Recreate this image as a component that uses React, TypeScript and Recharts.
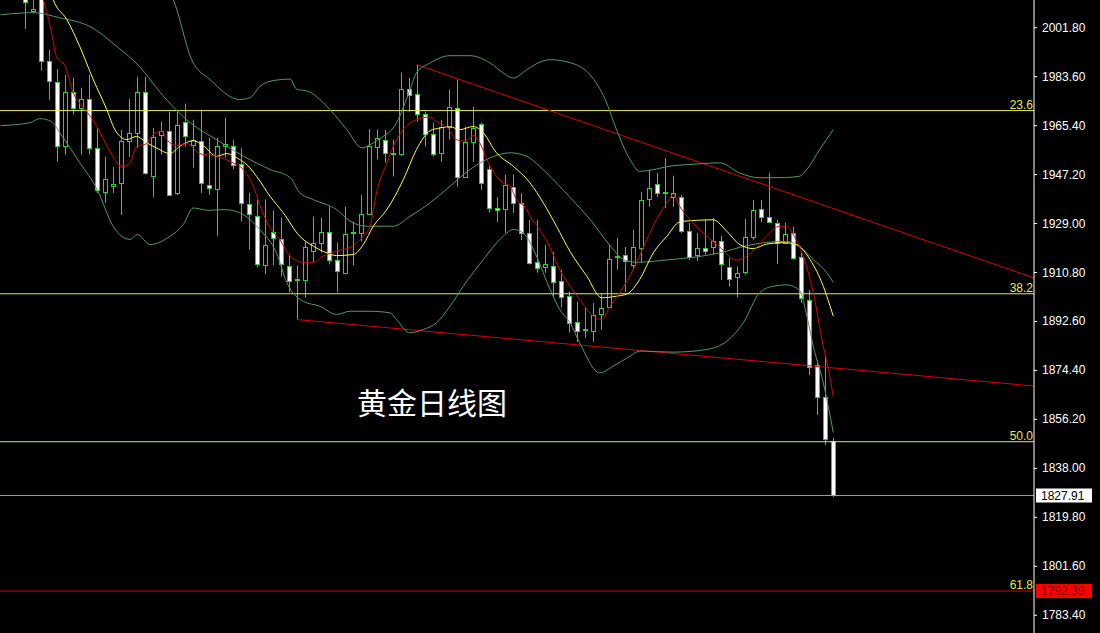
import React from 'react';
import { ComposedChart, Bar, Line, XAxis, YAxis, ReferenceLine } from 'recharts';

// daily candles, oldest first (prices)
const opens = [
  2016.0, 2007.8, 2013.5, 1989.5, 1981.7, 1957.9, 1978.0, 1972.0, 1975.4, 1957.1,
  1940.8, 1943.0, 1944.1, 1959.8, 1962.7, 1978.0, 1946.8, 1962.0, 1963.5, 1940.4,
  1966.6, 1958.3, 1959.8, 1943.4, 1941.9, 1958.1, 1957.9, 1951.3, 1936.4, 1931.9,
  1913.8, 1925.7, 1923.4, 1913.4, 1908.0, 1907.8, 1919.0, 1921.9, 1926.0, 1915.3,
  1910.8, 1925.3, 1925.7, 1932.7, 1957.6, 1960.2, 1954.8, 1955.0, 1979.1, 1977.3,
  1969.8, 1962.4, 1955.4, 1965.0, 1972.0, 1946.5, 1959.4, 1966.1, 1949.4, 1934.8,
  1934.4, 1942.7, 1936.7, 1925.5, 1914.8, 1912.9, 1913.1, 1907.7, 1901.9, 1892.4,
  1889.6, 1889.1, 1895.4, 1898.0, 1916.6, 1917.4, 1913.6, 1920.0, 1938.2, 1943.8,
  1940.4, 1938.9, 1938.9, 1926.3, 1917.4, 1920.0, 1920.3, 1922.6, 1912.9, 1909.2,
  1911.0, 1924.0, 1934.5, 1931.5, 1929.3, 1921.8, 1925.5, 1916.6, 1900.6, 1876.4,
  1864.5, 1848.1,
];
const highs = [
  2019.5, 2013.0, 2015.5, 1993.6, 1986.5, 1984.3, 1983.2, 1979.5, 1984.3, 1964.6,
  1953.8, 1950.1, 1963.8, 1975.4, 1983.6, 1983.6, 1964.6, 1966.9, 1970.6, 1970.6,
  1973.6, 1967.6, 1971.3, 1960.9, 1960.9, 1968.4, 1960.2, 1957.1, 1940.4, 1937.9,
  1937.9, 1933.9, 1931.2, 1917.5, 1913.4, 1922.3, 1931.6, 1931.2, 1935.3, 1921.9,
  1935.3, 1929.8, 1939.6, 1964.2, 1963.9, 1963.9, 1960.2, 1985.1, 1983.2, 1988.0,
  1970.6, 1966.5, 1967.6, 1978.8, 1982.5, 1965.0, 1972.4, 1966.5, 1950.8, 1938.9,
  1947.2, 1947.2, 1940.4, 1930.4, 1930.4, 1921.1, 1918.5, 1911.8, 1903.7, 1900.0,
  1897.6, 1899.5, 1903.2, 1921.0, 1923.7, 1920.3, 1926.7, 1940.8, 1949.0, 1947.9,
  1953.4, 1946.8, 1939.6, 1929.3, 1925.5, 1930.4, 1931.1, 1924.4, 1916.2, 1913.1,
  1930.7, 1937.8, 1937.8, 1947.9, 1930.4, 1929.3, 1927.8, 1918.1, 1904.3, 1878.3,
  1880.2, 1849.3,
];
const lows = [
  2001.4, 2007.4, 1985.8, 1975.0, 1952.0, 1954.6, 1969.5, 1954.6, 1954.6, 1940.4,
  1936.7, 1940.4, 1932.2, 1953.8, 1957.1, 1947.2, 1938.7, 1954.6, 1939.6, 1939.6,
  1957.6, 1949.8, 1940.4, 1939.6, 1924.5, 1953.5, 1949.1, 1929.8, 1919.3, 1912.7,
  1910.1, 1913.4, 1909.3, 1903.4, 1893.3, 1901.5, 1914.5, 1918.2, 1913.8, 1903.4,
  1910.1, 1913.4, 1922.3, 1932.3, 1952.8, 1951.6, 1946.5, 1954.2, 1970.6, 1966.9,
  1957.6, 1953.9, 1952.0, 1960.2, 1942.7, 1946.0, 1952.0, 1941.5, 1933.0, 1929.6,
  1925.5, 1933.0, 1922.9, 1913.8, 1910.7, 1910.7, 1901.7, 1897.8, 1888.5, 1885.0,
  1886.5, 1885.0, 1889.5, 1898.0, 1911.8, 1903.6, 1911.8, 1914.4, 1935.2, 1938.9,
  1934.8, 1935.2, 1925.5, 1915.5, 1915.1, 1917.4, 1917.4, 1908.1, 1905.5, 1901.5,
  1910.1, 1922.9, 1929.6, 1929.3, 1914.0, 1921.4, 1915.5, 1899.5, 1872.7, 1857.8,
  1846.7, 1827.4,
];
const closes = [
  2011.4, 2008.7, 1989.5, 1982.1, 1957.9, 1978.0, 1972.0, 1975.4, 1957.1, 1941.5,
  1945.6, 1943.8, 1959.8, 1962.7, 1978.0, 1947.9, 1961.3, 1963.5, 1939.8, 1965.8,
  1961.3, 1960.2, 1944.1, 1942.3, 1957.9, 1958.7, 1950.9, 1936.7, 1932.7, 1914.2,
  1921.2, 1923.4, 1914.2, 1907.8, 1908.4, 1920.1, 1921.9, 1926.0, 1915.6, 1911.2,
  1925.3, 1925.7, 1932.7, 1957.9, 1960.9, 1955.3, 1955.1, 1979.1, 1976.9, 1969.8,
  1962.4, 1955.0, 1965.0, 1972.4, 1946.5, 1959.4, 1964.7, 1944.1, 1934.8, 1934.1,
  1943.4, 1936.7, 1925.5, 1914.4, 1912.5, 1914.0, 1907.3, 1901.7, 1891.9, 1889.1,
  1889.9, 1895.0, 1897.6, 1915.8, 1917.0, 1915.1, 1920.3, 1937.8, 1942.3, 1940.4,
  1940.6, 1940.4, 1926.3, 1916.8, 1920.0, 1918.9, 1922.6, 1914.0, 1908.4, 1910.7,
  1924.0, 1934.1, 1931.5, 1929.6, 1921.8, 1925.2, 1916.2, 1901.3, 1875.7, 1864.5,
  1848.9, 1827.91,
];

// indicator lines: [bar index, price]
const upperBand = [
  [16.6, 2020.0], [18.5, 2012.2], [20.8, 1989.9], [23.1, 1982.5], [26.8, 1975.1], [28.1, 1975.8],
  [29.3, 1979.9], [30.6, 1981.9], [33.1, 1982.7], [33.9, 1979.0], [35.4, 1978.1], [38.1, 1971.3],
  [40.2, 1963.9], [42.1, 1957.1], [43.1, 1958.3], [44.3, 1960.5], [46.4, 1966.4], [48.1, 1978.8],
  [48.9, 1985.0], [50.6, 1988.7], [53.1, 1991.4], [55.6, 1991.4], [58.1, 1988.7], [59.75, 1985.0],
  [61.0, 1983.1], [62.7, 1986.2], [63.9, 1988.4], [65.6, 1989.9], [68.1, 1988.8], [70.6, 1984.3],
  [72.5, 1975.1], [73.9, 1963.9], [75.6, 1952.8], [76.8, 1948.4], [81.0, 1950.5], [84.3, 1951.2],
  [86.8, 1951.6], [89.3, 1947.8], [91.8, 1946.0], [94.9, 1946.1], [96.8, 1946.6], [97.7, 1949.1],
  [99.3, 1956.5], [101, 1963.9],
];
const midBand = [
  [-3.1, 2006.6], [1.0, 2007.4], [4.3, 2005.5], [8.1, 2002.2], [11.5, 1994.7], [14.3, 1987.3],
  [16.8, 1978.0], [20.6, 1966.5], [23.9, 1960.2], [27.3, 1954.0], [30.6, 1949.1], [33.1, 1946.1],
  [34.3, 1940.5], [36.0, 1937.9], [38.9, 1934.2], [40.6, 1929.9], [42.7, 1928.0], [46.0, 1928.0],
  [48.1, 1931.7], [50.6, 1936.7], [53.1, 1942.9], [55.6, 1949.1], [58.1, 1953.4], [60.6, 1955.3],
  [62.7, 1954.0], [64.3, 1950.3], [66.4, 1944.1], [68.1, 1938.7], [70.6, 1930.5], [73.1, 1920.8],
  [74.8, 1915.6], [76.4, 1914.6], [80.6, 1915.6], [83.9, 1916.6], [86.8, 1918.1], [90.2, 1920.8],
  [92.7, 1922.0], [95.2, 1922.4], [96.8, 1920.3], [98.5, 1915.6], [100.2, 1910.7], [101, 1907.1],
];
const lowerBand = [
  [-3.1, 1965.4], [0.6, 1966.5], [1.8, 1968.0], [3.3, 1966.9], [4.3, 1962.8], [6.8, 1951.7],
  [9.0, 1941.6], [11.0, 1927.9], [13.1, 1923.1], [14.0, 1924.9], [15.6, 1921.2], [18.1, 1924.3],
  [19.75, 1928.6], [21.0, 1934.8], [22.9, 1933.9], [24.75, 1934.2], [26.8, 1933.0], [29.3, 1926.8],
  [31.4, 1918.1], [32.7, 1907.0], [34.75, 1900.1], [36.8, 1898.3], [38.9, 1895.2], [40.6, 1896.4],
  [43.1, 1896.4], [45.6, 1895.8], [46.4, 1893.3], [48.1, 1888.4], [49.75, 1889.6], [51.4, 1892.1],
  [53.1, 1898.3], [54.75, 1905.7], [57.25, 1915.6], [59.75, 1924.3], [61.0, 1926.8], [62.25, 1925.5],
  [63.9, 1916.9], [65.6, 1904.5], [66.8, 1897.1], [68.1, 1892.1], [69.3, 1884.7], [71.8, 1873.5],
  [73.5, 1876.0], [75.6, 1879.7], [76.8, 1881.6], [81.0, 1881.2], [85.2, 1882.2], [87.7, 1885.3],
  [89.75, 1892.1], [91.8, 1903.3], [93.5, 1905.7], [95.2, 1906.2], [96.8, 1904.1], [97.7, 1894.6],
  [98.5, 1883.4], [99.75, 1869.8], [101, 1851.3],
];
const fastMa = [
  [1.8, 2015.9], [2.25, 2012.2], [3.3, 1999.8], [3.9, 1991.1], [5.0, 1987.4], [6.0, 1977.5],
  [6.8, 1973.8], [7.5, 1971.3], [8.7, 1966.4], [10.0, 1959.0], [11.2, 1952.8], [12.05, 1950.1],
  [13.1, 1951.5], [13.9, 1957.7], [15.2, 1958.7], [16.0, 1962.1], [17.05, 1963.3], [17.7, 1960.2],
  [18.9, 1958.0], [20.2, 1958.7], [21.8, 1955.0], [23.9, 1954.0], [26.0, 1951.5], [27.25, 1949.1],
  [28.5, 1942.9], [29.3, 1936.1], [30.6, 1927.4], [31.8, 1923.1], [33.1, 1916.9], [34.75, 1914.6],
  [36.0, 1914.6], [37.25, 1916.9], [38.9, 1918.7], [41.0, 1920.8], [42.25, 1924.3], [43.1, 1928.0],
  [43.9, 1940.4], [45.2, 1951.5], [46.4, 1960.2], [47.7, 1965.4], [48.9, 1967.6], [50.6, 1968.6],
  [51.4, 1967.0], [52.7, 1964.8], [53.9, 1960.2], [55.0, 1959.6], [56.0, 1961.7], [56.8, 1959.0],
  [58.1, 1950.3], [59.75, 1944.1], [60.6, 1942.9], [61.4, 1937.9], [62.7, 1934.2], [63.1, 1931.7],
  [64.3, 1926.8], [65.6, 1920.1], [66.8, 1911.9], [68.1, 1905.7], [69.3, 1900.8], [71.0, 1894.6],
  [72.05, 1893.3], [73.1, 1898.3], [74.3, 1903.3], [76.0, 1911.9], [77.7, 1923.1], [78.9, 1930.5],
  [80.2, 1936.7], [81.0, 1939.8], [81.8, 1935.4], [83.1, 1930.5], [84.75, 1925.5], [86.8, 1920.3],
  [88.9, 1915.4], [90.2, 1916.9], [91.4, 1920.0], [92.7, 1924.5], [94.3, 1928.0], [95.2, 1928.0],
  [96.0, 1924.9], [97.25, 1916.9], [98.5, 1903.3], [99.75, 1883.4], [100.4, 1874.8], [101, 1864.6],
];
const slowMa = [
  [3.1, 2015.9], [3.5, 2012.2], [5.2, 2004.8], [6.8, 1994.9], [8.5, 1982.5], [10.2, 1971.3],
  [11.2, 1963.9], [12.7, 1960.2], [13.9, 1961.4], [15.2, 1959.0], [16.4, 1957.1], [18.1, 1955.0],
  [19.3, 1957.7], [21.0, 1959.8], [22.25, 1958.0], [23.9, 1954.0], [25.2, 1955.0], [26.8, 1952.8],
  [27.7, 1950.9], [28.9, 1946.6], [30.6, 1939.1], [32.25, 1933.0], [34.3, 1924.3], [36.0, 1920.6],
  [37.7, 1918.1], [38.9, 1917.1], [41.0, 1917.5], [42.25, 1921.2], [43.5, 1928.0], [45.2, 1934.2],
  [47.25, 1945.3], [48.9, 1956.5], [50.6, 1963.5], [51.8, 1964.5], [53.1, 1965.0], [54.3, 1963.9],
  [56.0, 1965.1], [57.25, 1962.7], [58.9, 1955.3], [61.0, 1950.3], [63.1, 1944.1], [64.75, 1936.7],
  [66.4, 1928.0], [68.1, 1918.6], [70.2, 1909.4], [72.05, 1901.4], [73.9, 1902.0], [75.2, 1902.8],
  [76.8, 1908.2], [78.5, 1918.1], [80.2, 1924.3], [81.8, 1929.6], [83.9, 1930.2], [86.0, 1930.4],
  [87.7, 1926.1], [89.3, 1921.2], [91.0, 1919.7], [92.7, 1921.4], [94.75, 1921.9], [96.4, 1921.2],
  [98.1, 1915.6], [99.75, 1905.7], [100.6, 1898.3], [101, 1894.6],
];

// trend lines [start, end] as [bar index, price]
const upperTrend = [[48.9, 1988.1], [126.1, 1908.8]];
const lowerTrend = [[34.0, 1893.3], [126.1, 1868.6]];

const fibLevels = [
  { label: '23.6', value: 1971.0 },
  { label: '38.2', value: 1902.9 },
  { label: '50.0', value: 1847.9 },
];
const fib618 = { label: '61.8', value: 1792.39 };
const lastPrice = 1827.91;

const yTicks = [2001.8, 1983.6, 1965.4, 1947.2, 1929.0, 1910.8, 1892.6, 1874.4, 1856.2, 1838.0, 1819.8, 1801.6, 1783.4];

const GREEN = '#1fe01f';
const BAND = '#4f9a68';
const FONT = '"Liberation Sans", Arial, sans-serif';

const candles = opens.map((o, i) => ({
  k: i,
  open: o,
  high: highs[i],
  low: lows[i],
  close: closes[i],
  range: [lows[i], highs[i]],
}));

const toPts = (pts: number[][]) => pts.map(([k, v]) => ({ k, v }));

function Candle(props: any) {
  const { x, y, width, height, payload } = props;
  if (x == null || !payload) return null;
  const top = Math.min(y, y + height);
  const bottom = Math.max(y, y + height);
  const { open, close, high, low } = payload;
  const py = (p: number) => top + ((high - p) / (high - low)) * (bottom - top);
  const cx = Math.floor(x + width / 2) + 0.5;
  const a = py(open);
  const b = py(close);
  const bt = Math.round(Math.min(a, b)) + 0.5;
  const bh = Math.max(Math.round(Math.abs(a - b)), 1);
  const bear = close < open;
  return (
    <g>
      <line x1={cx} x2={cx} y1={top} y2={bottom} stroke={GREEN} strokeWidth={1} />
      <rect x={cx - 2} y={bt} width={4} height={bh} fill={bear ? '#ffffff' : '#000000'} stroke={GREEN} strokeWidth={1} />
    </g>
  );
}

function PriceTick(props: any) {
  const { x, y, payload } = props;
  return (
    <text x={x} y={y} dy={4} fill="#ffffff" fontSize={12} fontFamily={FONT}>
      {payload.value.toFixed(2)}
    </text>
  );
}

const fibLabel = (text: string) => (p: any) => {
  const vb = p.viewBox || {};
  return (
    <text x={vb.x + vb.width - 1} y={vb.y - 2} textAnchor="end" fill="#e8e84a" fontSize={12} fontFamily={FONT}>
      {text}
    </text>
  );
};

const priceBox = (text: string, bg: string, fg: string) => (p: any) => {
  const vb = p.viewBox || {};
  const x0 = vb.x + vb.width + 2;
  return (
    <g>
      <rect x={x0} y={vb.y - 7} width={56} height={14} fill={bg} />
      <text x={x0 + 5} y={vb.y + 4} fill={fg} fontSize={12} fontFamily={FONT}>
        {text}
      </text>
    </g>
  );
};

export default function App() {
  return (
    <div style={{ position: 'relative', width: 1100, height: 633, background: '#000' }}>
      <style>{'html,body{margin:0;padding:0;background:#000;}'}</style>
      <ComposedChart width={1100} height={633} data={candles} margin={{ top: 0, right: 0, bottom: 0, left: 0 }}>
        <XAxis type="number" dataKey="k" domain={[-3.16, 126.09]} allowDataOverflow hide />
        <YAxis
          orientation="right"
          type="number"
          domain={[1776.8, 2012.1]}
          allowDataOverflow
          ticks={yTicks}
          interval={0}
          width={66}
          axisLine={{ stroke: '#ffffff' }}
          tickLine={{ stroke: '#ffffff' }}
          tickSize={3}
          tickMargin={5}
          tick={<PriceTick />}
        />

        {fibLevels.map((f) => (
          <ReferenceLine key={f.label} y={f.value} stroke="#e8e84a" strokeWidth={1} label={fibLabel(f.label)} />
        ))}
        <ReferenceLine y={fib618.value} stroke="#e00000" strokeWidth={1} label={fibLabel(fib618.label)} />
        <ReferenceLine y={fib618.value} stroke="none" label={priceBox(fib618.value.toFixed(2), '#ff0000', '#7a0000')} />
        <ReferenceLine y={lastPrice} stroke="#9a9aaa" strokeWidth={1} label={priceBox(lastPrice.toFixed(2), '#ffffff', '#000000')} />

        <ReferenceLine
          segment={upperTrend.map(([x, y]) => ({ x, y }))}
          stroke="#e00000"
          strokeWidth={1}
          ifOverflow="hidden"
        />
        <ReferenceLine
          segment={lowerTrend.map(([x, y]) => ({ x, y }))}
          stroke="#e00000"
          strokeWidth={1}
          ifOverflow="hidden"
        />

        <Line data={toPts(upperBand)} dataKey="v" type="monotone" stroke={BAND} strokeWidth={1} dot={false} activeDot={false} isAnimationActive={false} />
        <Line data={toPts(midBand)} dataKey="v" type="monotone" stroke={BAND} strokeWidth={1} dot={false} activeDot={false} isAnimationActive={false} />
        <Line data={toPts(lowerBand)} dataKey="v" type="monotone" stroke={BAND} strokeWidth={1} dot={false} activeDot={false} isAnimationActive={false} />
        <Line data={toPts(slowMa)} dataKey="v" type="monotone" stroke="#ffff30" strokeWidth={1} dot={false} activeDot={false} isAnimationActive={false} />
        <Line data={toPts(fastMa)} dataKey="v" type="monotone" stroke="#cc0c0c" strokeWidth={1} dot={false} activeDot={false} isAnimationActive={false} />

        <Bar dataKey="range" barSize={5} shape={<Candle />} isAnimationActive={false} />
      </ComposedChart>
      <div
        style={{
          position: 'absolute',
          left: 357,
          top: 385,
          color: '#ffffff',
          fontSize: 30,
          lineHeight: '32px',
          fontFamily: '"Noto Sans CJK SC", sans-serif',
          whiteSpace: 'nowrap',
        }}
      >
        黄金日线图
      </div>
    </div>
  );
}
